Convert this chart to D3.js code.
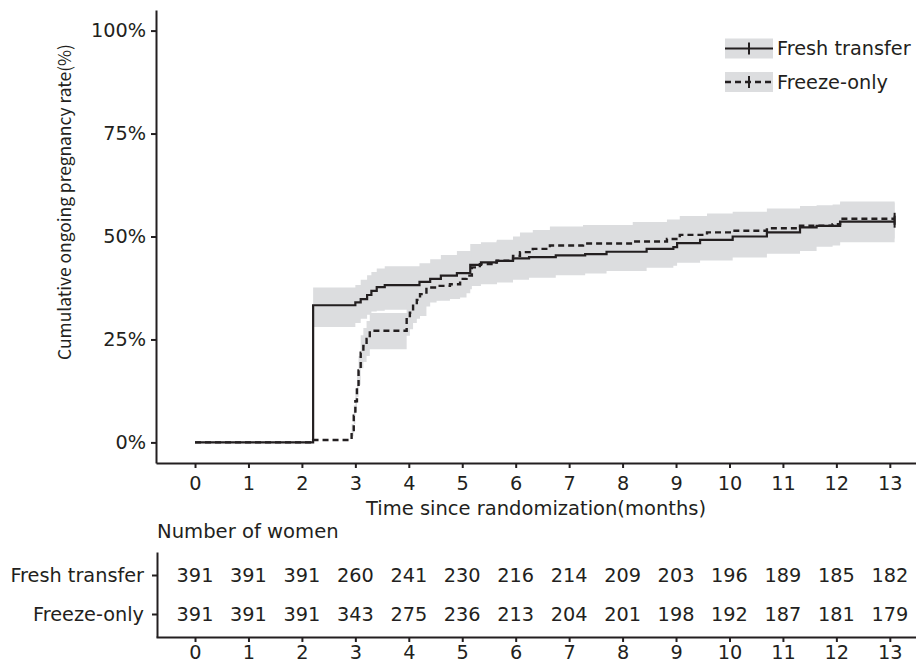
<!DOCTYPE html>
<html>
<head>
<meta charset="utf-8">
<script src="https://cdn.jsdelivr.net/npm/d3@7"></script>
<style>
  body { margin: 0; background: #fff; }
  svg text { font-family: "DejaVu Sans", Verdana, sans-serif; fill: #231f20; }
</style>
</head>
<body>
<div id="chart"></div>
<script>
"use strict";

// data
const groups = ["Fresh transfer", "Freeze-only"];
const months = [0, 1, 2, 3, 4, 5, 6, 7, 8, 9, 10, 11, 12, 13];
const yTicks = [0, 25, 50, 75, 100];
const endTime = 13.09;

const freshTime = [0, 2.21, 3.00, 3.10, 3.22, 3.30, 3.40, 3.55, 4.20, 4.40, 4.60, 4.90, 5.15, 5.35, 5.65, 5.95, 6.25, 6.75, 7.30, 7.70, 8.45, 8.95, 9.02, 9.45, 10.06, 10.70, 11.32, 11.63, 12.07];
const freshEst  = [0, 33.3, 34.0, 34.8, 35.8, 36.8, 37.7, 38.2, 39.0, 39.7, 40.5, 41.1, 43.1, 43.7, 44.1, 44.7, 45.0, 45.4, 45.7, 46.3, 47.0, 47.4, 48.4, 49.2, 50.0, 51.0, 52.2, 52.6, 53.6];
const freshLow  = [0, 28.0, 29.0, 30.0, 31.0, 31.8, 32.0, 32.2, 33.0, 34.5, 35.5, 36.2, 38.0, 38.4, 38.8, 39.5, 40.0, 40.6, 41.0, 41.6, 42.4, 42.9, 43.6, 44.2, 44.9, 45.8, 46.5, 47.8, 48.6];
const freshHigh = [0, 37.6, 38.2, 39.5, 40.6, 41.4, 42.2, 42.8, 43.5, 44.5, 45.5, 46.5, 48.2, 48.6, 49.2, 49.8, 50.1, 50.4, 50.7, 51.2, 51.8, 52.2, 53.2, 54.0, 55.0, 56.0, 57.2, 57.6, 58.2];

const freezeTime = [0, 2.21, 2.93, 2.97, 3.00, 3.03, 3.06, 3.10, 3.15, 3.21, 3.27, 3.96, 4.02, 4.08, 4.15, 4.21, 4.33, 4.52, 4.77, 4.96, 5.08, 5.18, 5.33, 5.64, 5.95, 6.08, 6.32, 6.64, 7.26, 8.19, 8.83, 9.07, 9.58, 10.06, 10.70, 11.32, 11.93, 12.07];
const freezeEst  = [0, 0.6, 3.0, 6.5, 10.0, 14.0, 17.5, 21.8, 23.4, 25.1, 27.1, 29.9, 31.5, 33.2, 34.6, 36.0, 37.6, 38.0, 38.4, 39.7, 40.5, 42.5, 43.3, 44.1, 45.3, 46.2, 47.0, 47.8, 48.3, 48.8, 49.4, 50.4, 51.0, 51.4, 52.0, 52.6, 53.0, 54.3];
const freezeLow  = [0, 0.6, 1.5, 4.5, 7.5, 11.0, 14.0, 18.0, 19.5, 21.0, 22.6, 25.9, 27.5, 29.0, 30.0, 30.7, 34.0, 34.4, 34.8, 35.2, 37.2, 38.9, 39.7, 40.2, 41.0, 41.6, 42.2, 43.0, 43.5, 44.0, 44.5, 45.5, 46.0, 46.5, 47.0, 47.5, 48.0, 49.5];
const freezeHigh = [0, 0.6, 4.5, 9.0, 13.0, 17.5, 21.0, 26.0, 27.8, 29.5, 31.4, 34.5, 36.0, 37.6, 39.0, 40.5, 42.0, 42.5, 43.0, 44.2, 45.0, 47.3, 48.2, 49.0, 50.0, 51.0, 51.6, 52.4, 52.8, 53.5, 54.1, 55.0, 55.6, 56.0, 56.8, 57.4, 57.8, 58.5];

const freshAtRisk  = [391, 391, 391, 260, 241, 230, 216, 214, 209, 203, 196, 189, 185, 182];
const freezeAtRisk = [391, 391, 391, 343, 275, 236, 213, 204, 201, 198, 192, 187, 181, 179];

// build step rows, carrying the last value to the end of follow-up
function makeRows(t, est, lo, hi) {
  let rows = t.map((d, i) => ({ t: d, est: est[i], lo: lo[i], hi: hi[i] }));
  let last = rows[rows.length - 1];
  rows.push({ t: endTime, est: last.est, lo: last.lo, hi: last.hi });
  return rows;
}
const fresh = makeRows(freshTime, freshEst, freshLow, freshHigh);
const freeze = makeRows(freezeTime, freezeEst, freezeLow, freezeHigh);

const W = 916, H = 662;
const ink = "#231f20", bandFill = "#dcdddf";
const fs = 19.3;

const svg = d3.select("#chart").append("svg")
  .attr("width", W)
  .attr("height", H);

const x = d3.scaleLinear().domain([-0.73, 13.49]).range([156, 916]);
const y = d3.scaleLinear().domain([-5, 105]).range([463, 10]);

// confidence bands
let band = d3.area()
  .curve(d3.curveStepAfter)
  .x(d => x(d.t))
  .y0(d => y(d.lo))
  .y1(d => y(d.hi));

svg.append("path").datum(fresh).attr("d", band).attr("fill", bandFill);
svg.append("path").datum(freeze).attr("d", band).attr("fill", bandFill);

// KM curves
let step = d3.line()
  .curve(d3.curveStepAfter)
  .x(d => x(d.t))
  .y(d => y(d.est));

svg.append("path").datum(freeze).attr("d", step)
  .attr("fill", "none").attr("stroke", ink).attr("stroke-width", 2.4)
  .attr("stroke-dasharray", "6,4");
svg.append("path").datum(fresh).attr("d", step)
  .attr("fill", "none").attr("stroke", ink).attr("stroke-width", 2.2);

// censor marks at the end
[fresh, freeze].forEach(rows => {
  let last = rows[rows.length - 1];
  svg.append("line")
    .attr("x1", x(last.t)).attr("x2", x(last.t))
    .attr("y1", y(last.est) - 6).attr("y2", y(last.est) + 6)
    .attr("stroke", ink).attr("stroke-width", 2);
});

// axes
function styleAxis(g) {
  g.selectAll("path.domain").attr("stroke", ink).attr("stroke-width", 2);
  g.selectAll(".tick line").attr("stroke", ink).attr("stroke-width", 2);
  g.selectAll(".tick text").attr("font-size", fs).attr("fill", ink)
    .attr("font-family", "DejaVu Sans, Verdana, sans-serif");
}

svg.append("g")
  .attr("transform", "translate(156,0)")
  .call(d3.axisLeft(y).tickValues(yTicks).tickFormat(d => d + "%").tickSize(5).tickSizeOuter(0).tickPadding(5))
  .call(styleAxis);

svg.append("g")
  .attr("transform", "translate(0,463)")
  .call(d3.axisBottom(x).tickValues(months).tickFormat(d3.format("d")).tickSize(5).tickSizeOuter(0).tickPadding(8))
  .call(styleAxis);

svg.append("text")
  .attr("x", 536).attr("y", 515)
  .attr("text-anchor", "middle").attr("font-size", 19.5)
  .text("Time since randomization(months)");

svg.append("text")
  .attr("transform", "translate(71,202) rotate(-90)")
  .attr("text-anchor", "middle").attr("font-size", 17.4)
  .style("font-family", "'Noto Sans CJK JP', 'Noto Sans', sans-serif")
  .text("Cumulative ongoing pregnancy rate(%)");

// legend
let legend = svg.append("g");
groups.forEach((name, i) => {
  let cy = i === 0 ? 48.5 : 82;
  legend.append("rect")
    .attr("x", 725).attr("y", cy - 10).attr("width", 48).attr("height", 20)
    .attr("fill", bandFill);
  legend.append("line")
    .attr("x1", 725).attr("x2", 773).attr("y1", cy).attr("y2", cy)
    .attr("stroke", ink).attr("stroke-width", i === 0 ? 2.2 : 2.4)
    .attr("stroke-dasharray", i === 0 ? null : "6,4");
  legend.append("line")
    .attr("x1", 749).attr("x2", 749).attr("y1", cy - 6).attr("y2", cy + 6)
    .attr("stroke", ink).attr("stroke-width", 2);
  legend.append("text")
    .attr("x", 777).attr("y", cy + 6.5).attr("font-size", fs)
    .text(name);
});

// number at risk table
svg.append("text")
  .attr("x", 157).attr("y", 538).attr("font-size", 19.6)
  .text("Number of women");

const rowY = d3.scalePoint().domain(groups).range([552, 637]).padding(0.59);

svg.append("g")
  .attr("transform", "translate(157,0)")
  .call(d3.axisLeft(rowY).tickSize(5).tickSizeOuter(0).tickPadding(8))
  .call(styleAxis);

svg.append("g")
  .attr("transform", "translate(0,637)")
  .call(d3.axisBottom(x).tickValues(months).tickFormat(d3.format("d")).tickSize(5).tickSizeOuter(0).tickPadding(3.5))
  .call(styleAxis);

[freshAtRisk, freezeAtRisk].forEach((counts, gi) => {
  svg.append("g").selectAll("text")
    .data(counts)
    .enter().append("text")
      .attr("x", (d, i) => x(months[i]))
      .attr("y", rowY(groups[gi]))
      .attr("dy", "0.36em")
      .attr("text-anchor", "middle")
      .attr("font-size", fs)
      .text(d => d);
});
</script>
</body>
</html>
